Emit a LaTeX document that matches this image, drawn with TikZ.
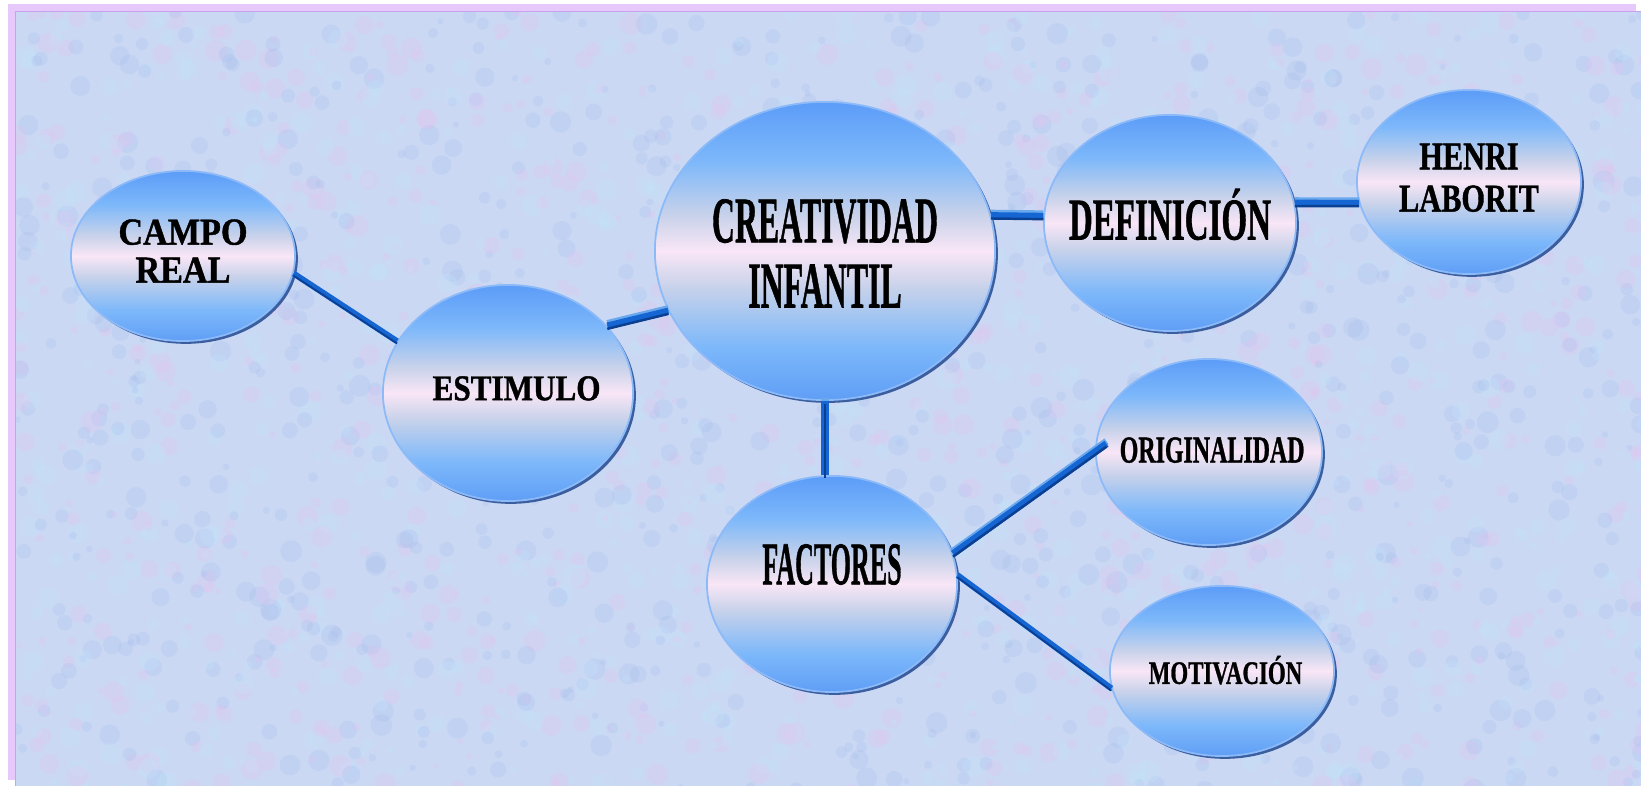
\documentclass[tikz,border=0pt]{standalone}
\usepackage{graphicx}
\usepackage{fontspec}
\setmainfont{Liberation Serif}[BoldFeatures={FakeBold=1.2}]
\usetikzlibrary{shapes.geometric,shadows}

\definecolor{framelav}{HTML}{E6C8FA}
\definecolor{frameline}{HTML}{C9A2EE}
\definecolor{paper}{HTML}{CAD8F4}
\definecolor{blob0}{HTML}{E4C6F0}
\definecolor{blob1}{HTML}{C0E6FA}
\definecolor{blob2}{HTML}{A9C0EE}
\definecolor{gtop}{HTML}{5C9CF8}
\definecolor{gbot}{HTML}{5F9EF6}
\definecolor{glite}{HTML}{7DB8FA}
\definecolor{ggrey}{HTML}{C8D2EA}
\definecolor{gpink}{HTML}{F9E6F6}
\definecolor{rimdark}{HTML}{3A5E9E}
\definecolor{rimlight}{HTML}{8CBAF8}
\definecolor{barlite}{HTML}{6AA8EE}
\definecolor{barmid}{HTML}{1566D2}
\definecolor{bardark}{HTML}{0B3F92}

\pgfdeclareverticalshading{bubble}{100bp}{color(0bp)=(gbot); color(25bp)=(gbot);
  color(34bp)=(glite); color(44bp)=(ggrey); color(50bp)=(gpink); color(56bp)=(ggrey);
  color(65bp)=(glite); color(75bp)=(gtop); color(100bp)=(gtop)}

\newcommand{\lbl}[2]{\makebox[0pt]{\scalebox{#1}[1]{\begin{tabular}{@{}c@{}}#2\end{tabular}}}}

\tikzset{
  bubble/.style={ellipse, shade, shading=bubble, draw=rimlight, line width=0.5pt, inner sep=0pt,
    drop shadow={shadow xshift=0.8pt, shadow yshift=-0.8pt, fill=rimdark, opacity=1}},
  bar/.style={draw=barmid, line width=2pt,
    preaction={draw=barlite, line width=2pt, transform canvas={yshift=0.7pt}},
    postaction={draw=bardark, line width=0.7pt, transform canvas={yshift=-0.8pt}}},
  slimbar/.style={draw=barmid, line width=1.7pt,
    postaction={draw=bardark, line width=0.5pt, transform canvas={yshift=-0.6pt}}}
}

\begin{document}
\begin{tikzpicture}[x=0.01cm, y=-0.01cm]
  \useasboundingbox (0,0) rectangle (1641,786);
  \fill[white] (0,0) rectangle (1641,786);
  % frame and paper
  \fill[framelav] (8,4) rectangle (1636,780);
  \begin{scope}
    \clip (16,12) rectangle (1641,786);
    \fill[paper] (16,12) rectangle (1641,786);
    \pgfmathsetseed{42}
    \foreach \i in {1,...,2600}{
      \pgfmathsetmacro{\bx}{16+rnd*1640}
      \pgfmathsetmacro{\by}{12+rnd*780}
      \pgfmathsetmacro{\br}{3+rnd*8}
      \pgfmathtruncatemacro{\bc}{mod(\i,3)}
      \fill[blob\bc, opacity=0.28] (\bx,\by) circle[radius=\br];
    }
  \end{scope}
  \draw[frameline, line width=0.4pt] (15.5,786) -- (15.5,11.5) -- (1641,11.5);

  % ellipses
  \node[bubble, minimum width=2.24cm, minimum height=1.70cm, font=\bfseries\fontsize{10.8}{10.8}\selectfont]
    (campo) at (183,256) {\lbl{0.9}{CAMPO\\REAL}};
  \node[bubble, minimum width=2.50cm, minimum height=2.16cm, font=\bfseries\fontsize{10.3}{10.3}\selectfont]
    (estim) at (508,393) {\lbl{0.86}{\hspace{0.2cm}ESTIMULO}};
  \node[bubble, minimum width=3.40cm, minimum height=2.98cm, font=\bfseries\fontsize{18.5}{18.5}\selectfont,
    text height=29pt] (creat) at (825,251) {\lbl{0.49}{CREATIVIDAD\\INFANTIL}};
  \node[bubble, minimum width=2.52cm, minimum height=2.16cm, font=\bfseries\fontsize{16.8}{16.8}\selectfont]
    (defin) at (1170,223) {\lbl{0.56}{DEFINICIÓN}};
  \node[bubble, minimum width=2.24cm, minimum height=1.84cm, font=\bfseries\fontsize{11.2}{12}\selectfont]
    (henri) at (1469,182) {\lbl{0.77}{HENRI\\LABORIT}};
  \node[bubble, minimum width=2.26cm, minimum height=1.86cm, font=\bfseries\fontsize{10.8}{10.8}\selectfont,
    text depth=1pt] (orig) at (1209,452) {\lbl{0.63}{\hspace{0.1cm}ORIGINALIDAD}};
  \node[bubble, minimum width=2.50cm, minimum height=2.16cm, font=\bfseries\fontsize{17.2}{17.2}\selectfont,
    text depth=11pt] (fact) at (832,584) {\lbl{0.43}{FACTORES}};
  \node[bubble, minimum width=2.24cm, minimum height=1.70cm, font=\bfseries\fontsize{9.3}{9.3}\selectfont,
    text depth=1pt] (motiv) at (1222,671) {\lbl{0.70}{\hspace{0.1cm}MOTIVACIÓN}};

  % connectors
  \draw[slimbar] (campo.-9) -- (estim.155);
  \draw[bar] (estim.34) -- (creat.201);
  \draw[bar] (creat.12) -- (defin.177);
  \draw[bar] (defin.9) -- (henri.191);
  \draw[bar] (creat.south) -- (creat.south |- fact.north);
  \draw[bar, shorten >=-4pt] (fact.14) -- (orig.180);
  \draw[slimbar] (fact.4) -- (motiv.189);
\end{tikzpicture}
\end{document}
